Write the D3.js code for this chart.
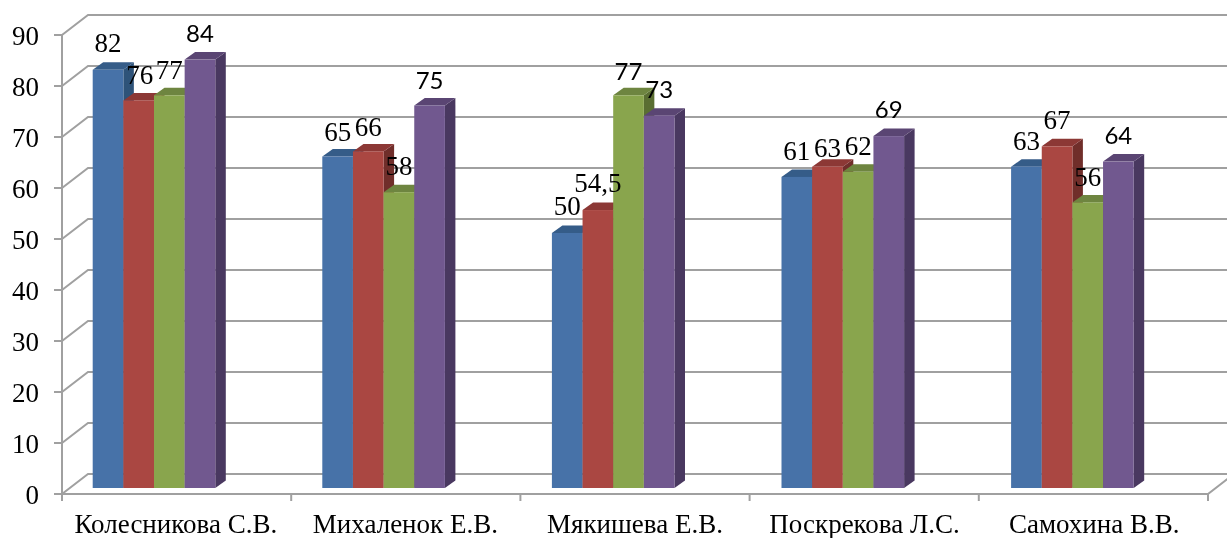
<!DOCTYPE html>
<html><head><meta charset="utf-8">
<script src="https://cdnjs.cloudflare.com/ajax/libs/d3/7.8.5/d3.min.js"></script>
<style>html,body{margin:0;padding:0;background:#fff;overflow:hidden}svg{display:block}</style>
</head><body><svg id="c" width="1227" height="538"></svg>
<script>
const categories=["Колесникова С.В.","Михаленок Е.В.","Мякишева Е.В.","Поскрекова Л.С.","Самохина В.В."];
const series1=[82,65,50,61,63];
const series2=[76,66,54.5,63,67];
const series3=[77,58,77,62,56];
const series4=[84,75,73,69,64];
const seriesValues=[series1,series2,series3,series4];
const labelTexts=[["82","65","50","61","63"],["76","66","54,5","63","67"],["77","58","77","62","56"],["84","75","73","69","64"]];
const labelSans=[[0,0,0,0,0],[0,0,0,0,0],[0,0,1,0,0],[1,1,1,1,1]];
const tickValues=d3.range(0,100,10);
const frontColors=["#4672a8","#aa4643","#89a54e","#71588f"];
const topColors=["#355b88","#8c3836","#6e853f","#5a4573"];
const sideColors=["#2f5279","#702d2b","#5a6e33","#4a3860"];
// label offsets relative to bar top-centre (dx,dy of text centre)
const labelDx=[[0,0,0,0,0],[1,0,0,0,0],[0,0,0,0,0],[0,0,0,0,0]];
const labelDy=[[-27,-25,-27,-26,-26],[-25,-24,-27,-19,-26],[-25,-26,-25,-26,-25],[-27,-26,-27,-28,-27]];

const svg=d3.select("#c");
const defs=svg.append("defs");
defs.append("filter").attr("id","soft").attr("x","-5%").attr("y","-5%").attr("width","110%").attr("height","110%")
  .append("feGaussianBlur").attr("stdDeviation",0.55);
defs.append("filter").attr("id","softText").attr("x","-5%").attr("y","-5%").attr("width","110%").attr("height","110%")
  .append("feGaussianBlur").attr("stdDeviation",0.35);
const root=svg.append("g").attr("filter","url(#soft)");

const x0=d3.scaleBand().domain(categories).range([62,1210]);
const xAxisScale=d3.scaleBand().domain(categories).range([62,1208]);
const x1=d3.scaleBand().domain(d3.range(4)).range([30.7,153.3]);
const y=d3.scaleLinear().domain([0,90]).range([494,35]);
const wallDx=26,wallDy=-20,barLift=-6,barDx=10.5,barDy=-7.5;

// wall gridlines
const grid=root.append("g").attr("fill","none").attr("stroke","#a0a0a0").attr("stroke-width",2);
grid.selectAll("path").data(tickValues).join("path")
  .attr("d",v=>`M62,${y(v)}L${62+wallDx},${y(v)+wallDy}H1230`);
// floor and axes
const ax=root.append("g").attr("fill","none").attr("stroke","#a0a0a0").attr("stroke-width",2);
ax.append("path").attr("d",`M62,${y(90)}V${y(0)}H1208L1230,${y(0)-17}`);
ax.selectAll("path.t").data(tickValues).join("path").attr("class","t").attr("d",v=>`M54,${y(v)}H62`);
const edges=categories.map(c=>xAxisScale(c)).concat([1208]);
ax.selectAll("path.x").data(edges).join("path").attr("class","x").attr("d",v=>`M${v},${y(0)}V${y(0)+7}`);

// bars
const cells=[];
categories.forEach((c,j)=>seriesValues.forEach((s,i)=>cells.push({c,i,j,v:s[j]})));
const bars=root.append("g").selectAll("g").data(cells).join("g");
const barLeft=d=>x0(d.c)+x1(d.i),barW=x1.bandwidth(),barTop=d=>y(d.v)+barLift,barBot=y(0)+barLift;
bars.append("path").attr("fill",d=>sideColors[d.i])
  .attr("d",d=>`M${barLeft(d)+barW},${barTop(d)}l${barDx},${barDy}V${barBot+barDy}l${-barDx},${-barDy}Z`);
bars.append("path").attr("fill",d=>topColors[d.i])
  .attr("d",d=>`M${barLeft(d)},${barTop(d)}l${barDx},${barDy}h${barW}l${-barDx},${-barDy}Z`);
bars.append("rect").attr("fill",d=>frontColors[d.i]).attr("x",barLeft).attr("y",barTop).attr("width",barW).attr("height",d=>barBot-barTop(d));

// text
const txt=svg.append("g").attr("fill","#000").attr("filter","url(#softText)");
const serif="'Liberation Serif','Times New Roman',serif",sans="Lato,'Open Sans',sans-serif";
txt.selectAll("text.y").data(tickValues).join("text").attr("class","y")
  .attr("x",39).attr("y",v=>y(v)+1).attr("text-anchor","end").attr("dominant-baseline","central")
  .attr("font-family",serif).attr("font-size",27).text(d=>d);
txt.selectAll("text.c").data(categories).join("text").attr("class","c")
  .attr("x",c=>x0(c)+x0.bandwidth()/2-1).attr("y",533).attr("text-anchor","middle")
  .attr("font-family",serif).attr("font-size",27).text(d=>d);
txt.selectAll("text.l").data(cells).join("text").attr("class","l")
  .attr("x",d=>barLeft(d)+barW/2+labelDx[d.i][d.j]).attr("y",d=>barTop(d)+labelDy[d.i][d.j])
  .attr("text-anchor","middle").attr("dominant-baseline","central")
  .attr("font-family",d=>labelSans[d.i][d.j]?sans:serif)
  .attr("font-size",d=>labelSans[d.i][d.j]?24:27)
  .text(d=>labelTexts[d.i][d.j]);
</script></body></html>
